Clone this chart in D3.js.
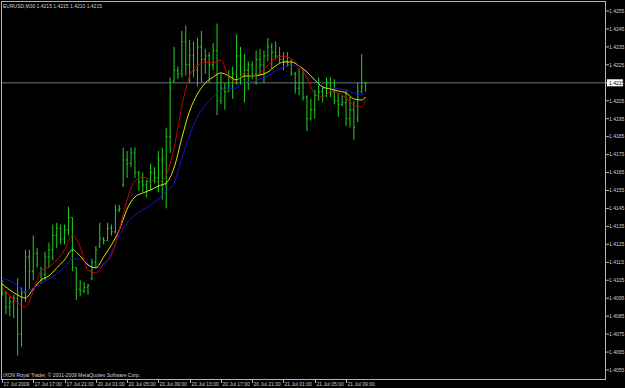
<!DOCTYPE html>
<html>
<head>
<meta charset="utf-8">
<script src="https://d3js.org/d3.v7.min.js"></script>
<style>
    body { margin: 0; background: #000; }
    svg { display: block; }
    text { font-family: "Liberation Sans", Arial, sans-serif; font-size: 5px; fill: #d0d0d0; }
</style>
</head>
<body>
<div id="chart"></div>
<script>
// EURUSD M30 bars, 17 Jul 2009 13:00 .. 21 Jul 2009 11:30
const opens = [
    1.4100,1.4098,1.4090,1.4093,1.4095,1.4075,1.4098,1.4118,1.4110,1.4120,
    1.4112,1.4108,1.4118,1.4122,1.4130,1.4134,1.4128,1.4133,1.4140,1.4112,
    1.4100,1.4099,1.4101,1.4106,1.4115,1.4124,1.4128,1.4127,1.4134,1.4132,
    1.4144,1.4158,1.4172,1.4170,1.4176,1.4165,1.4160,1.4158,1.4160,1.4165,
    1.4162,1.4172,1.4158,1.4185,1.4216,1.4222,1.4220,1.4238,1.4225,1.4230,
    1.4222,1.4235,1.4228,1.4230,1.4225,1.4233,1.4205,1.4212,1.4210,1.4218,
    1.4220,1.4230,1.4220,1.4222,1.4225,1.4220,1.4228,1.4225,1.4230,1.4235,
    1.4232,1.4230,1.4228,1.4227,1.4225,1.4220,1.4212,1.4215,1.4207,1.4195,
    1.4200,1.4208,1.4210,1.4212,1.4215,1.4210,1.4205,1.4203,1.4204,1.4195,
    1.4200,1.4195,1.4210,1.4215
];
const highs = [
    1.4105,1.4099,1.4096,1.4097,1.4106,1.4101,1.4122,1.4122,1.4130,1.4123,
    1.4112,1.4121,1.4126,1.4136,1.4137,1.4136,1.4136,1.4146,1.4140,1.4112,
    1.4105,1.4104,1.4103,1.4117,1.4124,1.4137,1.4129,1.4137,1.4136,1.4147,
    1.4147,1.4179,1.4177,1.4179,1.4179,1.4166,1.4165,1.4161,1.4170,1.4168,
    1.4177,1.4179,1.4190,1.4218,1.4235,1.4224,1.4244,1.4247,1.4239,1.4238,
    1.4240,1.4244,1.4234,1.4232,1.4237,1.4248,1.4220,1.4215,1.4222,1.4224,
    1.4242,1.4235,1.4231,1.4227,1.4227,1.4233,1.4234,1.4233,1.4240,1.4237,
    1.4238,1.4235,1.4232,1.4232,1.4228,1.4221,1.4223,1.4222,1.4208,1.4206,
    1.4211,1.4218,1.4213,1.4218,1.4218,1.4217,1.4209,1.4208,1.4211,1.4207,
    1.4205,1.4215,1.4231,1.4215
];
const lows = [
    1.4096,1.4086,1.4085,1.4084,1.4063,1.4068,1.4093,1.4100,1.4105,1.4112,
    1.4103,1.4105,1.4112,1.4116,1.4123,1.4125,1.4125,1.4130,1.4110,1.4094,
    1.4096,1.4098,1.4097,1.4105,1.4112,1.4123,1.4125,1.4127,1.4130,1.4131,
    1.4143,1.4157,1.4162,1.4168,1.4162,1.4155,1.4154,1.4151,1.4155,1.4159,
    1.4154,1.4150,1.4145,1.4176,1.4215,1.4217,1.4218,1.4219,1.4215,1.4218,
    1.4213,1.4215,1.4220,1.4215,1.4222,1.4197,1.4203,1.4200,1.4210,1.4206,
    1.4214,1.4214,1.4204,1.4211,1.4217,1.4214,1.4219,1.4215,1.4227,1.4223,
    1.4228,1.4226,1.4222,1.4224,1.4219,1.4209,1.4208,1.4205,1.4188,1.4194,
    1.4195,1.4205,1.4204,1.4207,1.4207,1.4203,1.4196,1.4202,1.4191,1.4190,
    1.4183,1.4193,1.4209,1.4210
];
const closes = [
    1.4098,1.4090,1.4093,1.4095,1.4075,1.4098,1.4118,1.4110,1.4120,1.4114,
    1.4108,1.4118,1.4122,1.4130,1.4134,1.4128,1.4133,1.4140,1.4112,1.4100,
    1.4099,1.4101,1.4102,1.4115,1.4122,1.4128,1.4127,1.4134,1.4132,1.4144,
    1.4145,1.4172,1.4170,1.4176,1.4165,1.4160,1.4158,1.4160,1.4165,1.4162,
    1.4172,1.4158,1.4185,1.4212,1.4222,1.4220,1.4238,1.4225,1.4230,1.4222,
    1.4235,1.4228,1.4230,1.4225,1.4233,1.4205,1.4212,1.4210,1.4218,1.4220,
    1.4230,1.4220,1.4222,1.4225,1.4220,1.4228,1.4225,1.4230,1.4235,1.4232,
    1.4230,1.4228,1.4227,1.4225,1.4220,1.4212,1.4215,1.4207,1.4195,1.4200,
    1.4208,1.4210,1.4212,1.4215,1.4210,1.4205,1.4203,1.4204,1.4195,1.4200,
    1.4190,1.4210,1.4213,1.4215
];

// moving averages, read every second bar
const maBars = [0,2,4,6,8,10,12,14,16,18,20,22,24,26,28,30,32,34,36,38,40,42,44,46,48,
    50,52,54,56,58,60,62,64,66,68,70,72,74,76,78,80,82,84,86,88,90,92,93];
const maRed = [
    1.41013,1.40963,1.40924,1.40901,1.40990,1.41102,1.41124,1.41163,1.41219,1.41302,
    1.41235,1.41107,1.41091,1.41141,1.41191,1.41330,1.41497,1.41603,1.41625,1.41609,
    1.41598,1.41637,1.41787,1.42021,1.42188,1.42244,1.42266,1.42260,1.42277,1.42182,
    1.42160,1.42205,1.42188,1.42205,1.42249,1.42288,1.42299,1.42283,1.42244,1.42177,
    1.42088,1.42071,1.42099,1.42093,1.42065,1.42026,1.42015,1.42054
];
const maYellow = [
    1.41029,1.40996,1.40968,1.40951,1.41002,1.41052,1.41074,1.41119,1.41163,1.41219,
    1.41185,1.41135,1.41119,1.41180,1.41247,1.41330,1.41447,1.41514,1.41536,1.41553,
    1.41575,1.41592,1.41676,1.41843,1.41993,1.42088,1.42149,1.42182,1.42205,1.42188,
    1.42166,1.42188,1.42188,1.42194,1.42210,1.42244,1.42266,1.42266,1.42244,1.42210,
    1.42166,1.42127,1.42116,1.42104,1.42093,1.42060,1.42054,1.42071
];
const maBlue = [
    1.41063,1.41046,1.41018,1.40985,1.41007,1.41035,1.41057,1.41085,1.41124,1.41169,
    1.41169,1.41141,1.41119,1.41130,1.41208,1.41297,1.41369,1.41414,1.41442,1.41469,
    1.41503,1.41547,1.41592,1.41731,1.41859,1.41960,1.42026,1.42071,1.42110,1.42116,
    1.42121,1.42155,1.42155,1.42171,1.42188,1.42216,1.42238,1.42249,1.42238,1.42210,
    1.42166,1.42127,1.42121,1.42116,1.42110,1.42093,1.42082,1.42093
];

const priceTicks = ['1.4255','1.4245','1.4235','1.4225','1.4215','1.4205','1.4195','1.4185',
    '1.4175','1.4165','1.4155','1.4145','1.4135','1.4125','1.4115','1.4105','1.4095',
    '1.4085','1.4075','1.4065','1.4055'];
const timeLabels = ['17 Jul 2009','17 Jul 17:00','17 Jul 21:00','20 Jul 01:00','20 Jul 05:00',
    '20 Jul 09:00','20 Jul 13:00','20 Jul 17:00','20 Jul 21:00','21 Jul 01:00',
    '21 Jul 05:00','21 Jul 09:00'];
const timeBars = [0,8,16,24,32,40,48,56,64,72,80,88];

const header = 'EURUSD,M30  1.4215 1.4215 1.4210 1.4215';
const footer = 'IXON Royal Trader, \u00a9 2001-2009 MetaQuotes Software Corp.';
const bid = 1.4215;

const width = 625, height = 388;
const plot = { left: 1, top: 1, right: 606, bottom: 379 };

const svg = d3.select('#chart').append('svg')
    .attr('width', width)
    .attr('height', height)
    .style('background', '#000');

const x = d3.scaleLinear().domain([0, opens.length - 1]).range([2, 365.6]);
const y = d3.scaleLinear().domain([1.4055, 1.4255]).range([370, 11]);

// bid line
svg.append('line')
    .attr('x1', plot.left).attr('x2', plot.right)
    .attr('y1', y(bid)).attr('y2', y(bid))
    .attr('stroke', '#484c56')
    .attr('stroke-width', 1.6);

// bars
const bars = svg.append('g').attr('stroke', '#1ed21e').attr('stroke-width', 1);
opens.forEach((o, i) => {
    const cx = x(i);
    bars.append('line')
        .attr('x1', cx).attr('x2', cx)
        .attr('y1', y(highs[i])).attr('y2', y(lows[i]));
    bars.append('line')
        .attr('x1', cx - 1.2).attr('x2', cx)
        .attr('y1', y(o)).attr('y2', y(o));
    bars.append('line')
        .attr('x1', cx).attr('x2', cx + 1.2)
        .attr('y1', y(closes[i])).attr('y2', y(closes[i]));
});

// moving averages
const maLine = vals => d3.line()
    .x((d, k) => x(maBars[k]))
    .y(d => y(d))
    .curve(d3.curveMonotoneX)(vals);

[[maBlue, '#1414d8'], [maYellow, '#e2e200'], [maRed, '#c80000']].forEach(([vals, c]) => {
    svg.append('path')
        .attr('d', maLine(vals))
        .attr('fill', 'none')
        .attr('stroke', c)
        .attr('stroke-width', 1);
});

// frame
svg.append('rect')
    .attr('x', plot.left + 0.5).attr('y', plot.top + 0.5)
    .attr('width', plot.right - plot.left - 1)
    .attr('height', plot.bottom - plot.top)
    .attr('fill', 'none')
    .attr('stroke', '#b4b4b4')
    .attr('stroke-width', 1);

// price axis
const yAxis = svg.append('g');
priceTicks.forEach(t => {
    const py = y(+t);
    yAxis.append('line')
        .attr('x1', plot.right).attr('x2', plot.right + 3)
        .attr('y1', py).attr('y2', py)
        .attr('stroke', '#b4b4b4');
    yAxis.append('text')
        .attr('x', 609).attr('y', py + 1.8)
        .text(t);
});

// current price label
yAxis.append('rect')
    .attr('x', 607).attr('y', y(bid) - 3.5)
    .attr('width', 16).attr('height', 7)
    .attr('fill', '#ffffff');
yAxis.append('text')
    .attr('x', 609).attr('y', y(bid) + 1.8)
    .style('fill', '#000')
    .text(d3.format('.4f')(bid));

// time axis
const xAxis = svg.append('g');
timeLabels.forEach((t, k) => {
    const px = Math.round(x(timeBars[k])) + 0.5;
    xAxis.append('line')
        .attr('x1', px).attr('x2', px)
        .attr('y1', plot.bottom).attr('y2', plot.bottom + 4)
        .attr('stroke', '#b4b4b4');
    xAxis.append('text')
        .attr('x', px + 1).attr('y', 385.5)
        .text(t);
});

svg.append('text').attr('x', 3).attr('y', 7.5).text(header);
svg.append('text').attr('x', 3).attr('y', 377).text(footer);
</script>
</body>
</html>
